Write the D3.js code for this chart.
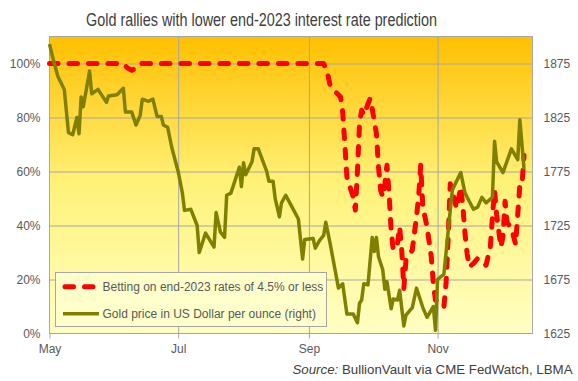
<!DOCTYPE html>
<html><head><meta charset="utf-8">
<script src="https://cdn.jsdelivr.net/npm/d3@7"></script>
<style>body{margin:0;background:#fff}svg{display:block}</style>
</head><body><svg id="c" width="578" height="381"></svg>
<script>
const titleText = "Gold rallies with lower end-2023 interest rate prediction";
const seriesNames = ["Betting on end-2023 rates of 4.5% or less", "Gold price in US Dollar per ounce (right)"];
const sourceLabel = "Source:";
const sourceText = " BullionVault via CME FedWatch, LBMA";
const monthTicks = ["2022-05-01","2022-07-01","2022-09-01","2022-11-01"];
const monthLabels = ["May","Jul","Sep","Nov"];
const leftTicks = [0,0.2,0.4,0.6,0.8,1.0];
const rightTicks = [1625,1675,1725,1775,1825,1875];

const goldDates = ["2022-05-01","2022-05-03","2022-05-05","2022-05-08","2022-05-10","2022-05-12","2022-05-14","2022-05-15","2022-05-16","2022-05-17",
"2022-05-20","2022-05-21","2022-05-24","2022-05-28","2022-05-29","2022-06-02","2022-06-05","2022-06-06","2022-06-09","2022-06-11",
"2022-06-13","2022-06-14","2022-06-17","2022-06-19","2022-06-21","2022-06-23","2022-06-24","2022-06-26","2022-06-28","2022-07-01",
"2022-07-03","2022-07-04","2022-07-07","2022-07-10","2022-07-11","2022-07-14","2022-07-18","2022-07-19","2022-07-21","2022-07-23",
"2022-07-24","2022-07-26","2022-07-30","2022-07-31","2022-08-01","2022-08-02","2022-08-05","2022-08-06","2022-08-08","2022-08-12",
"2022-08-13","2022-08-15","2022-08-16","2022-08-18","2022-08-19","2022-08-21","2022-08-24","2022-08-27","2022-08-29","2022-08-30",
"2022-09-03","2022-09-04","2022-09-06","2022-09-08","2022-09-09","2022-09-11","2022-09-13","2022-09-15","2022-09-17","2022-09-19",
"2022-09-22","2022-09-24","2022-09-25","2022-09-26","2022-09-27","2022-09-29","2022-10-01","2022-10-02","2022-10-03","2022-10-04",
"2022-10-06","2022-10-07","2022-10-08","2022-10-10","2022-10-11","2022-10-13","2022-10-14","2022-10-16","2022-10-17","2022-10-20",
"2022-10-22","2022-10-25","2022-10-27","2022-10-30","2022-10-31","2022-11-01","2022-11-04","2022-11-07","2022-11-08","2022-11-12",
"2022-11-14","2022-11-18","2022-11-20","2022-11-22","2022-11-24","2022-11-27","2022-11-28","2022-11-29","2022-12-02","2022-12-06",
"2022-12-09","2022-12-10","2022-12-12"];
const goldPrices = [1893,1877,1863,1851,1811,1809,1825,1810,1844,1835,
1868,1847,1851,1839,1845,1846,1852,1830,1830,1818,
1827,1842,1840,1842,1826,1826,1818,1816,1797,1775,
1755,1739,1740,1725,1700,1718,1705,1737,1719,1714,
1753,1755,1779,1761,1783,1772,1784,1796,1796,1775,
1766,1766,1750,1733,1746,1753,1742,1731,1694,1712,
1713,1704,1711,1716,1728,1709,1688,1667,1671,1643,
1643,1635,1653,1656,1671,1670,1714,1701,1714,1696,
1684,1666,1673,1648,1657,1656,1665,1632,1642,1649,
1667,1649,1640,1650,1628,1675,1680,1739,1758,1774,
1755,1740,1742,1751,1746,1751,1803,1784,1774,1796,
1786,1823,1777];

const betDates = ["2022-05-01","2022-06-05","2022-06-07","2022-06-09","2022-06-11","2022-06-13","2022-09-08","2022-09-10","2022-09-11","2022-09-13",
"2022-09-16","2022-09-17","2022-09-18","2022-09-19","2022-09-21","2022-09-22","2022-09-23","2022-09-24","2022-09-25","2022-09-26",
"2022-09-27","2022-09-28","2022-09-29","2022-09-30","2022-10-01","2022-10-03","2022-10-04","2022-10-05","2022-10-06","2022-10-07",
"2022-10-08","2022-10-09","2022-10-10","2022-10-11","2022-10-13","2022-10-14","2022-10-15","2022-10-16","2022-10-17","2022-10-20",
"2022-10-22","2022-10-23","2022-10-24","2022-10-25","2022-10-27","2022-10-29","2022-10-30","2022-10-31","2022-11-02","2022-11-04",
"2022-11-05","2022-11-06","2022-11-07","2022-11-09","2022-11-10","2022-11-12","2022-11-13","2022-11-14","2022-11-15","2022-11-16",
"2022-11-18","2022-11-20","2022-11-24","2022-11-26","2022-11-27","2022-11-28","2022-11-29","2022-11-30","2022-12-01","2022-12-02",
"2022-12-03","2022-12-04","2022-12-06","2022-12-08","2022-12-09","2022-12-10","2022-12-11","2022-12-12"];
const betPct = [1.00,1.00,0.983,0.975,0.983,1.00,1.00,0.957,0.92,0.90,
0.876,0.82,0.704,0.58,0.53,0.506,0.457,0.60,0.78,0.827,
0.809,0.83,0.85,0.87,0.833,0.74,0.617,0.53,0.506,0.555,
0.623,0.518,0.38,0.309,0.333,0.395,0.309,0.167,0.271,0.309,
0.432,0.506,0.623,0.469,0.395,0.284,0.185,0.123,0.117,0.099,
0.185,0.35,0.555,0.494,0.463,0.543,0.469,0.37,0.296,0.247,
0.259,0.278,0.253,0.32,0.432,0.53,0.44,0.38,0.32,0.36,
0.49,0.41,0.39,0.33,0.44,0.55,0.55,0.66];

const svg = d3.select("#c");
const L = 49.5, R = 532.5, T = 36.5, B = 333.5;
const parse = d3.utcParse("%Y-%m-%d");
const x = d3.scaleUtc().domain([parse("2022-05-01"), parse("2022-12-16")]).range([L, R]);
const yL = d3.scaleLinear().domain([0, 1.1]).range([B, T]);
const yR = d3.scaleLinear().domain([1625, 1900]).range([B, T]);

const defs = svg.append("defs");
const g = defs.append("linearGradient").attr("id","bg").attr("x1",0).attr("y1",0).attr("x2",0).attr("y2",1);
g.append("stop").attr("offset","0%").attr("stop-color","#FFC000");
g.append("stop").attr("offset","50%").attr("stop-color","#FFF27A");
g.append("stop").attr("offset","100%").attr("stop-color","#FFFFC4");

svg.append("rect").attr("x",L).attr("y",T).attr("width",R-L).attr("height",B-T).attr("fill","url(#bg)");

const grid = "#A6A6A6";
// horizontal gridlines
svg.append("g").attr("transform",`translate(${L},0)`)
  .call(d3.axisLeft(yL).tickValues(leftTicks.filter(d=>d>0)).tickSize(-(R-L)).tickFormat(""))
  .call(s=>{s.select(".domain").remove(); s.selectAll("line").attr("stroke",grid);});
// vertical gridlines
svg.append("g").attr("transform",`translate(0,${B})`)
  .call(d3.axisBottom(x).tickValues(monthTicks.slice(1).map(parse)).tickSize(-(B-T)).tickFormat(""))
  .call(s=>{s.select(".domain").remove(); s.selectAll("line").attr("stroke",grid);});
// border
svg.append("rect").attr("x",L).attr("y",T).attr("width",R-L).attr("height",B-T).attr("fill","none").attr("stroke",grid);

// bottom axis ticks and labels
svg.append("g").attr("transform",`translate(0,${B})`)
  .call(d3.axisBottom(x).tickValues(monthTicks.map(parse)).tickSize(5).tickPadding(6).tickFormat((d,i)=>monthLabels[i]))
  .call(s=>{s.select(".domain").remove(); s.selectAll("line").attr("stroke",grid);
    s.selectAll("text").attr("fill","#595959").style("font-family","'Liberation Sans',Arial,sans-serif").style("font-size","12px");});
// left axis labels
svg.append("g").attr("transform",`translate(${L},0)`)
  .call(d3.axisLeft(yL).tickValues(leftTicks).tickSize(0).tickPadding(9).tickFormat(d3.format(".0%")))
  .call(s=>{s.select(".domain").remove();
    s.selectAll("text").attr("fill","#595959").style("font-family","'Liberation Sans',Arial,sans-serif").style("font-size","12px");});
// right axis labels
svg.append("g").attr("transform",`translate(${R},0)`)
  .call(d3.axisRight(yR).tickValues(rightTicks).tickSize(0).tickPadding(11).tickFormat(d3.format("d")))
  .call(s=>{s.select(".domain").remove();
    s.selectAll("text").attr("fill","#595959").style("font-family","'Liberation Sans',Arial,sans-serif").style("font-size","12px");});

// series
const betData = betDates.map((d,i)=>({d:parse(d), v:betPct[i]}));
const goldData = goldDates.map((d,i)=>({d:parse(d), v:goldPrices[i]}));
svg.append("path").datum(betData)
  .attr("d", d3.line().x(p=>x(p.d)).y(p=>yL(p.v)))
  .attr("fill","none").attr("stroke","#FF0000").attr("stroke-width",5)
  .attr("stroke-linecap","round").attr("stroke-linejoin","round").attr("stroke-dasharray","8.5,11");
svg.append("path").datum(goldData)
  .attr("d", d3.line().x(p=>x(p.d)).y(p=>yR(p.v)))
  .attr("fill","none").attr("stroke","#808000").attr("stroke-width",3.5)
  .attr("stroke-linejoin","round");

// legend
const lg = svg.append("g");
lg.append("rect").attr("x",55.5).attr("y",272.5).attr("width",271).attr("height",54).attr("fill","#FFFFCC").attr("stroke",grid);
lg.append("line").attr("x1",65).attr("x2",93).attr("y1",286.7).attr("y2",286.7)
  .attr("stroke","#FF0000").attr("stroke-width",5).attr("stroke-linecap","round").attr("stroke-dasharray","8.5,11");
lg.append("line").attr("x1",63).attr("x2",99).attr("y1",313.7).attr("y2",313.7)
  .attr("stroke","#808000").attr("stroke-width",3.5);
lg.selectAll("text.lt").data(seriesNames).join("text").attr("class","lt")
  .attr("x",102.5).attr("y",(d,i)=>[291,318][i]).text(d=>d)
  .attr("fill","#595959").style("font-family","'Liberation Sans',Arial,sans-serif").style("font-size","12px");

// title
svg.append("text").attr("x",86).attr("y",26).text(titleText)
  .attr("textLength",351).attr("lengthAdjust","spacingAndGlyphs")
  .attr("fill","#404040").style("font-family","'Liberation Sans Narrow','Liberation Sans',Arial,sans-serif").style("font-size","17.5px");

// source
const st = svg.append("text").attr("x",572.5).attr("y",374).attr("text-anchor","end")
  .attr("fill","#404040").style("font-family","'Liberation Sans',Arial,sans-serif").style("font-size","13.3px");
st.append("tspan").style("font-style","italic").text(sourceLabel);
st.append("tspan").text(sourceText);
</script></body></html>
